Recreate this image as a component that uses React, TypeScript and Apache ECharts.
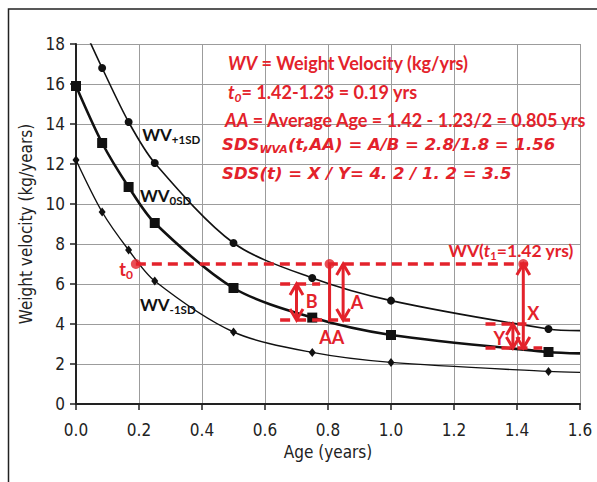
import React, { useEffect, useRef } from "react";
import * as echarts from "echarts";

const RED = "#e3222b";
const AXIS_FONT = "'Liberation Sans Narrow', 'DejaVu Sans Condensed', sans-serif";
const LABEL_FONT = "Lato, 'Open Sans', sans-serif";
const MATH_FONT = "'DejaVu Sans', sans-serif";

// Ages (years) of the measured points
const ages = [0, 0.083, 0.167, 0.25, 0.5, 0.75, 1.0, 1.5];
// Weight velocity curves (kg/years)
const wvPlus1 = [null, 16.8, 14.1, 12.05, 8.05, 6.3, 5.17, 3.75];
const wv0 = [15.9, 13.05, 10.85, 9.05, 5.8, 4.32, 3.45, 2.6];
const wvMinus1 = [12.2, 9.6, 7.7, 6.15, 3.6, 2.58, 2.08, 1.63];
// unmarked ends of the curves
const plus1Start = [0.03, 18.6];
const curveEndAge = 1.6;
const curveEndValues = [3.67, 2.53, 1.58];

// Annotations
const redDots = [[0.19, 7.0], [0.805, 7.0], [1.42, 7.0]];
const dashedSegments = [
  [0.19, 7.0, 1.435, 7.0],
  [0.648, 6.0, 0.775, 6.0],
  [0.648, 4.2, 0.87, 4.2],
  [1.3, 4.0, 1.43, 4.0],
  [1.3, 2.8, 1.48, 2.8],
];
const solidSegments = [[0.805, 7.0, 0.805, 4.2]];
const arrowSegments = [
  [0.848, 7.0, 0.848, 4.2],
  [0.7, 6.0, 0.7, 4.2],
  [1.42, 7.0, 1.42, 2.8],
  [1.387, 4.0, 1.387, 2.8],
];
const redLabels = ["A", "B", "AA", "X", "Y"];
const redLabelPos = [[0.892, 5.1], [0.748, 5.15], [0.812, 3.33], [1.452, 4.57], [1.344, 3.28]];
const curveLabelMain = ["WV", "WV", "WV"];
const curveLabelSub = ["+1SD", "0SD", "-1SD"];
const curveLabelPos = [[0.21, 13.5], [0.203, 10.45], [0.203, 5.0]];

function curveData(vals: (number | null)[], endVal: number, start?: number[]) {
  const pts: any[] = [];
  if (start) pts.push({ value: start, symbol: "none" });
  ages.forEach((a, i) => {
    if (vals[i] != null) pts.push([a, vals[i]]);
  });
  pts.push({ value: [curveEndAge, endVal], symbol: "none" });
  return pts;
}

function segLine(api: any, dashed: boolean) {
  const p1 = api.coord([api.value(0), api.value(1)]);
  const p2 = api.coord([api.value(2), api.value(3)]);
  return {
    type: "line",
    shape: { x1: p1[0], y1: p1[1], x2: p2[0], y2: p2[1] },
    style: { stroke: RED, lineWidth: dashed ? 3.5 : 3, lineDash: dashed ? [10, 6] : null },
  };
}

function arrowRender(_params: any, api: any) {
  const p1 = api.coord([api.value(0), api.value(1)]);
  const p2 = api.coord([api.value(2), api.value(3)]);
  const dx = p2[0] - p1[0], dy = p2[1] - p1[1];
  const len = Math.hypot(dx, dy) || 1;
  const ux = dx / len, uy = dy / len;
  const px = -uy, py = ux;
  const L = 11, W = 6.5;
  const head = (tip: number[], sx: number, sy: number) => ({
    type: "polyline",
    shape: {
      points: [
        [tip[0] - sx * L + px * W, tip[1] - sy * L + py * W],
        [tip[0], tip[1]],
        [tip[0] - sx * L - px * W, tip[1] - sy * L - py * W],
      ],
    },
    style: { stroke: RED, lineWidth: 3, fill: null, lineJoin: "miter" },
  });
  return {
    type: "group",
    children: [
      { type: "line", shape: { x1: p1[0], y1: p1[1], x2: p2[0], y2: p2[1] }, style: { stroke: RED, lineWidth: 3 } },
      head(p2, ux, uy),
      head(p1, -ux, -uy),
    ],
  };
}

const redRich = (size: number, family: string = LABEL_FONT, subSize: number = 11) => ({
  n: { fontSize: size, fontWeight: "bold", fontFamily: family, fill: RED, color: RED },
  i: { fontSize: size, fontWeight: "bold", fontStyle: "italic", fontFamily: family, fill: RED, color: RED },
  is: { fontSize: subSize, fontWeight: "bold", fontStyle: "italic", fontFamily: family, fill: RED, color: RED, padding: [10, 0, 0, 0] },
  s: { fontSize: subSize, fontWeight: "bold", fontFamily: family, fill: RED, color: RED, padding: [10, 0, 0, 0] },
});

export default function App() {
  const ref = useRef<HTMLDivElement>(null);
  useEffect(() => {
    if (!ref.current) return;
    const chart = echarts.init(ref.current, null, { renderer: "svg" });
    const formulaLines = [
      { x: 228, y: 63, text: "{i|WV}{n| = Weight Velocity (kg/yrs)}", rich: redRich(18) },
      { x: 228, y: 92, text: "{i|t}{is|0}{n|= 1.42-1.23 = 0.19 yrs}", rich: redRich(18, LABEL_FONT, 12) },
      { x: 225, y: 120, text: "{i|AA}{n| = Average Age = 1.42 - 1.23/2 = 0.805 yrs}", rich: redRich(18) },
      { x: 222, y: 144, text: "{i|SDS}{is|WVA}{i|(t,AA)}{n| = }{i|A/B}{n| = }{i|2.8/1.8}{n| = }{i|1.56}", rich: redRich(16.5, MATH_FONT, 11) },
      { x: 222, y: 173, text: "{i|SDS(t)}{n| = }{i|X / Y}{n|= }{i|4. 2 / 1. 2}{n| = }{i|3.5}", rich: redRich(16.5, MATH_FONT, 11) },
    ];
    chart.setOption({
      animation: false,
      grid: { left: 76, right: 17, top: 44, bottom: 78 },
      xAxis: {
        type: "value",
        min: 0,
        max: 1.6,
        interval: 0.2,
        name: "Age (years)",
        nameLocation: "middle",
        nameGap: 39,
        nameTextStyle: { fontSize: 17, color: "#222", fontFamily: AXIS_FONT },
        axisLine: { lineStyle: { color: "#222", width: 2 } },
        axisTick: { show: true, length: 6, lineStyle: { color: "#222", width: 1.5 } },
        axisLabel: { fontSize: 17, color: "#222", fontFamily: AXIS_FONT, margin: 17, formatter: (v: number) => v.toFixed(1) },
        splitLine: { show: true, lineStyle: { color: "#9c9c9c", width: 1 } },
      },
      yAxis: {
        type: "value",
        min: 0,
        max: 18,
        interval: 2,
        name: "Weight velocity (kg/years)",
        nameLocation: "middle",
        nameGap: 29,
        nameTextStyle: { fontSize: 17, color: "#222", fontFamily: AXIS_FONT },
        axisLine: { show: true, lineStyle: { color: "#222", width: 2 } },
        axisTick: { show: true, length: 6, lineStyle: { color: "#222", width: 1.5 } },
        axisLabel: { fontSize: 17, color: "#222", fontFamily: AXIS_FONT, margin: 11 },
        splitLine: { show: true, lineStyle: { color: "#9c9c9c", width: 1 } },
      },
      graphic: [
        {
          type: "rect",
          shape: { x: 8.5, y: 9, width: 700, height: 600 },
          style: { fill: null, stroke: "#222", lineWidth: 1.5 },
          silent: true,
        },
        ...formulaLines.map((l) => ({
          type: "text",
          x: l.x,
          y: l.y,
          z: 10,
          style: { text: l.text, rich: l.rich, verticalAlign: "middle", align: "left" },
        })),
      ],
      series: [
        {
          type: "line",
          data: curveData(wvPlus1, curveEndValues[0], plus1Start),
          smooth: 0.3,
          clip: true,
          symbol: "circle",
          symbolSize: 8,
          itemStyle: { color: "#111" },
          lineStyle: { color: "#111", width: 1.6 },
          z: 3,
        },
        {
          type: "line",
          data: curveData(wv0, curveEndValues[1]),
          smooth: 0.3,
          clip: true,
          symbol: "rect",
          symbolSize: 10,
          itemStyle: { color: "#111" },
          lineStyle: { color: "#111", width: 2.6 },
          z: 3,
        },
        {
          type: "line",
          data: curveData(wvMinus1, curveEndValues[2]),
          smooth: 0.3,
          clip: true,
          symbol: "diamond",
          symbolSize: [7, 9],
          itemStyle: { color: "#111" },
          lineStyle: { color: "#111", width: 1.4 },
          z: 3,
        },
        {
          type: "custom",
          data: dashedSegments,
          renderItem: (_p: any, api: any) => segLine(api, true),
          z: 4,
        },
        {
          type: "custom",
          data: solidSegments,
          renderItem: (_p: any, api: any) => segLine(api, false),
          z: 4,
        },
        {
          type: "custom",
          data: arrowSegments,
          renderItem: arrowRender,
          z: 4,
        },
        {
          type: "scatter",
          data: redDots,
          symbol: "circle",
          symbolSize: 10,
          itemStyle: { color: RED },
          z: 5,
        },
        {
          type: "custom",
          data: redLabelPos,
          z: 6,
          renderItem: (params: any, api: any) => {
            const p = api.coord([api.value(0), api.value(1)]);
            return {
              type: "text",
              x: p[0],
              y: p[1],
              style: {
                text: redLabels[params.dataIndex],
                fill: RED,
                fontSize: 18,
                fontWeight: "bold",
                fontFamily: LABEL_FONT,
                align: "center",
                verticalAlign: "middle",
              },
            };
          },
        },
        {
          type: "custom",
          data: [[0.181, 6.75]],
          z: 6,
          renderItem: (_params: any, api: any) => {
            const p = api.coord([api.value(0), api.value(1)]);
            return {
              type: "text",
              x: p[0],
              y: p[1],
              style: {
                text: "{n|t}{s|0}",
                rich: redRich(18, LABEL_FONT, 12),
                align: "right",
                verticalAlign: "middle",
              },
            };
          },
        },
        {
          type: "custom",
          data: [[1.381, 7.67]],
          z: 6,
          renderItem: (_params: any, api: any) => {
            const p = api.coord([api.value(0), api.value(1)]);
            return {
              type: "text",
              x: p[0],
              y: p[1],
              style: {
                text: "{n|WV(}{i|t}{s|1}{n|=1.42 yrs)}",
                rich: redRich(17.5, LABEL_FONT, 11),
                align: "center",
                verticalAlign: "middle",
              },
            };
          },
        },
        {
          type: "custom",
          data: curveLabelPos,
          z: 6,
          renderItem: (params: any, api: any) => {
            const p = api.coord([api.value(0), api.value(1)]);
            const i = params.dataIndex;
            return {
              type: "text",
              x: p[0],
              y: p[1],
              style: {
                text: `{m|${curveLabelMain[i]}}{s|${curveLabelSub[i]}}`,
                rich: {
                  m: { fontSize: 17, fontWeight: "bold", fontFamily: LABEL_FONT, fill: "#111", color: "#111" },
                  s: { fontSize: 11.5, fontWeight: "bold", fontFamily: LABEL_FONT, fill: "#111", color: "#111", padding: [11, 0, 0, 0] },
                },
                align: "left",
                verticalAlign: "middle",
              },
            };
          },
        },
      ],
    });
    return () => chart.dispose();
  }, []);
  return (
    <div
      ref={ref}
      style={{ position: "fixed", left: 0, top: 0, width: 597, height: 482, background: "#fff" }}
    />
  );
}
